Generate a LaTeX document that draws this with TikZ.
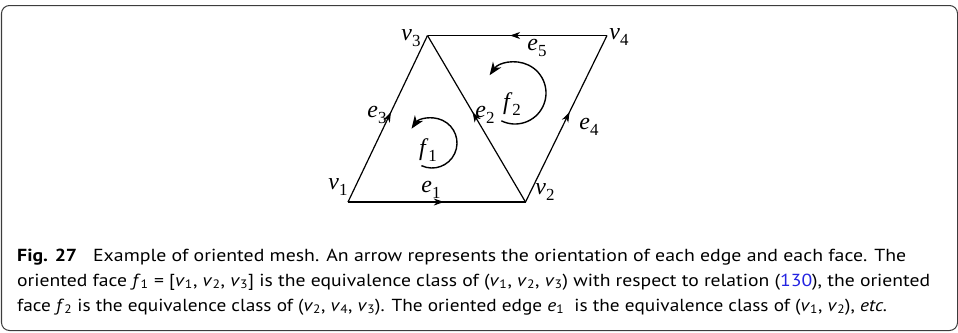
\documentclass[tikz,border=0pt]{standalone}
\usepackage{fontspec}
\usepackage{graphicx}
\setmainfont{Liberation Serif}
\newfontfamily\capfont{PT Sans}
\usetikzlibrary{arrows.meta,decorations.markings}
\definecolor{linkblue}{RGB}{35,35,225}
\definecolor{framegray}{RGB}{60,60,60}
\newcommand\lab[2]{\textit{#1}\raisebox{-0.28em}{\fontsize{17}{17}\selectfont #2}}
\newcommand\cv[2]{\textit{#1}\textsubscript{#2}}
\newcommand\fitline[2]{\resizebox{#1}{\height}{#2}}
\begin{document}
\begin{tikzpicture}[x=1bp,y=-1bp,
  edge/.style={line width=1.2bp, postaction={decorate},
    decoration={markings, mark=at position 0.54 with {\arrow{Stealth[length=10bp,width=7bp,inset=3bp]}}}},
  turn/.style={line width=1.4bp, -{Stealth[length=13bp,width=10bp,inset=4bp]}},
  lbl/.style={font=\fontsize{24}{24}\selectfont, inner sep=0pt},
  capline/.style={font=\capfont\fontsize{17.5}{20}\selectfont, anchor=base west, inner sep=0pt}]
\useasboundingbox (0,0) rectangle (958,332);
\draw[line width=1bp, rounded corners=8bp, framegray] (1.5,5.5) rectangle (957.5,330.5);
% vertices
\coordinate (v1) at (348,202);
\coordinate (v2) at (525.5,202);
\coordinate (v3) at (427.5,35.5);
\coordinate (v4) at (607,35.5);
% edges
\draw[edge] (v1) -- (v2);
\draw[edge] (v2) -- (v3);
\draw[edge] (v1) -- (v3);
\draw[edge] (v2) -- (v4);
\draw[edge] (v4) -- (v3);
% face orientations
\coordinate (c1) at (432,143);
\coordinate (c2) at (515,93);
\draw[turn] ([shift={(115:25)}]c1) arc[start angle=115, end angle=-145, radius=25];
\draw[turn] ([shift={(116:31)}]c2) arc[start angle=116, end angle=-145, radius=31];
% labels
\node[lbl] (lv1) at (338,187) {\lab{v}{1}};
\node[lbl] (lv2) at (545,192) {\lab{v}{2}};
\node[lbl] (lv3) at (411,38) {\lab{v}{3}};
\node[lbl] (lv4) at (619,37) {\lab{v}{4}};
\node[lbl] (le1) at (431,190) {\lab{e}{1}};
\node[lbl] (le2) at (485,115) {\lab{e}{2}};
\node[lbl] (le3) at (377,115) {\lab{e}{3}};
\node[lbl] (le4) at (589,127) {\lab{e}{4}};
\node[lbl] (le5) at (537,48) {\lab{e}{5}};
\node[lbl] (lf1) at (428,150) {\lab{f}{1}};
\node[lbl] (lf2) at (512,104) {\lab{f}{2}};
% caption
\node[capline] (cap1) at (17,261) {\fitline{889bp}{{\bfseries Fig. 27}\hspace{14bp}Example of oriented mesh. An arrow represents the orientation of each edge and each face. The}};
\node[capline] (cap2) at (17,286) {\fitline{913bp}{oriented face \cv{f}{1} = [\cv{v}{1}, \cv{v}{2}, \cv{v}{3}] is the equivalence class of (\cv{v}{1}, \cv{v}{2}, \cv{v}{3}) with respect to relation ({\color{linkblue}130}), the oriented}};
\node[capline] (cap3) at (17,311) {\fitline{870bp}{face \cv{f}{2} is the equivalence class of (\cv{v}{2}, \cv{v}{4}, \cv{v}{3}). The oriented edge \cv{e}{1}\ \ is the equivalence class of (\cv{v}{1}, \cv{v}{2}), \textit{etc.}}};
\end{tikzpicture}
\end{document}
